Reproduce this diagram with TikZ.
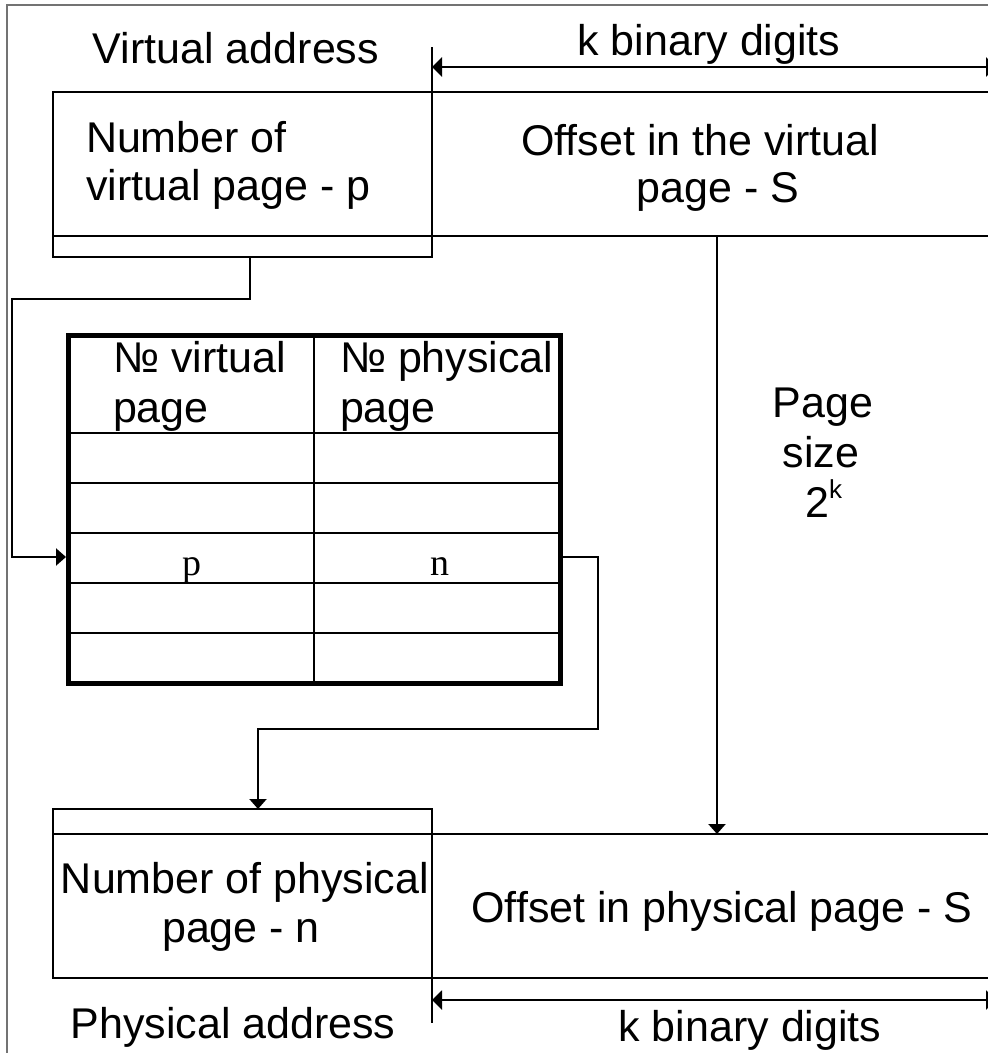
\documentclass[tikz,border=0pt]{standalone}
\usepackage{fontspec}
\setmainfont{Liberation Sans}
\newfontfamily\cellfont{Liberation Serif}
\usetikzlibrary{arrows.meta}
\begin{document}
\begin{tikzpicture}[x=1pt,y=-1pt,
  every node/.style={inner sep=0pt, outer sep=0pt},
  lbl/.style={font=\fontsize{43}{48}\selectfont},
  supl/.style={font=\fontsize{26}{28}\selectfont},
  cellval/.style={font=\cellfont\fontsize{38}{40}\selectfont},
  wire/.style={line width=2.5pt},
  conn/.style={line width=2.2pt},
  tablegrid/.style={line width=2pt},
  frameline/.style={line width=1.5pt, draw=black!55},
  tip/.style={-{Triangle[length=10pt,width=17pt]}},
  dimline/.style={line width=2.2pt, {Triangle[length=10pt,width=19pt]}-{Triangle[length=10pt,width=19pt]}},
]
\useasboundingbox (0,0) rectangle (988,1053);
\clip (0,0) rectangle (988,1053);

% outer frame (top and left edges only)
\draw[frameline] (988,5) -- (7,5) -- (7,1053);

% ---------- virtual address ----------
\node[lbl, anchor=base] (vaddr) at (236,63) {Virtual address};
\node[lbl, anchor=base] (ktop) at (709,55) {k binary digits};

\coordinate (vTL) at (53,92);
\coordinate (vBR) at (432,257);
\coordinate (vRight) at (988,92);
\coordinate (vMidL) at (53,236);
\coordinate (vMidR) at (988,236);
\coordinate (vTick) at (432,47);
\draw[wire] (vTL) rectangle (vBR);
\draw[wire] (vTL) -- (vRight);
\draw[wire] (vMidL) -- (vMidR);
\draw[wire] (vTick) -- (432,257);

\coordinate (kTopL) at (432,67);
\coordinate (kTopR) at (996,67);
\draw[dimline] (kTopL) -- (kTopR);

\node[lbl, anchor=base west] (vpn1) at (86,152) {Number of};
\node[lbl, anchor=base west] (vpn2) at (86,200) {virtual page - p};
\node[lbl, anchor=base] (voff1) at (700,155) {Offset in the virtual};
\node[lbl, anchor=base] (voff2) at (718,202) {page - S};

% ---------- page size ----------
\node[lbl, anchor=base] (ps1) at (823,417) {Page};
\node[lbl, anchor=base] (ps2) at (821,467) {size};
\node[lbl, anchor=base] (ps3) at (817,517) {2};
\node[supl, anchor=base west] (ps3k) at (829,498) {k};

% ---------- page table ----------
\coordinate (tTL) at (68,335);
\coordinate (tBR) at (560,683);
\foreach \yy in {433,483,533,583,633}
  \draw[tablegrid] (68,\yy) -- (560,\yy);
\draw[tablegrid] (314,335) -- (314,683);
\draw[line width=5pt] (tTL) rectangle (tBR);

\node[lbl, anchor=base west] (h1a) at (113,372) {№ virtual};
\node[lbl, anchor=base west] (h1b) at (113,422) {page};
\node[lbl, anchor=base west] (h2a) at (340,372) {№ physical};
\node[lbl, anchor=base west] (h2b) at (340,422) {page};

\node[cellval, anchor=base] (cp) at (192,575) {p};
\node[cellval, anchor=base] (cn) at (440,575) {n};

\coordinate (rowIn) at (66,557);
\coordinate (rowOut) at (562,557);

% ---------- physical address ----------
\coordinate (pTL) at (53,809);
\coordinate (pBR) at (432,978);
\draw[wire] (pTL) rectangle (pBR);
\draw[wire] (53,834) -- (988,834);
\draw[wire] (432,978) -- (988,978);
\draw[wire] (432,809) -- (432,1023);

\coordinate (kBotL) at (432,1000);
\coordinate (kBotR) at (996,1000);
\draw[dimline] (kBotL) -- (kBotR);

\node[lbl, anchor=base] (ppn1) at (245,893) {Number of physical};
\node[lbl, anchor=base] (ppn2) at (241,942) {page - n};
\node[lbl, anchor=base] (poff) at (722,922) {Offset in physical page - S};
\node[lbl, anchor=base] (paddr) at (233,1038) {Physical address};
\node[lbl, anchor=base] (kbot) at (750,1041) {k binary digits};

% ---------- connectors ----------
\coordinate (vTap) at (250,257);
\coordinate (pTap) at (258,809);
\coordinate (offTap) at (717,236);
\coordinate (offIn) at (717,834);

\draw[conn, tip] (vTap) -- (250,299) -- (12,299) -- (12,557) -- (rowIn);
\draw[conn, tip] (rowOut) -- (598,557) -- (598,729) -- (258,729) -- (pTap);
\draw[conn, tip] (offTap) -- (offIn);
\end{tikzpicture}
\end{document}
